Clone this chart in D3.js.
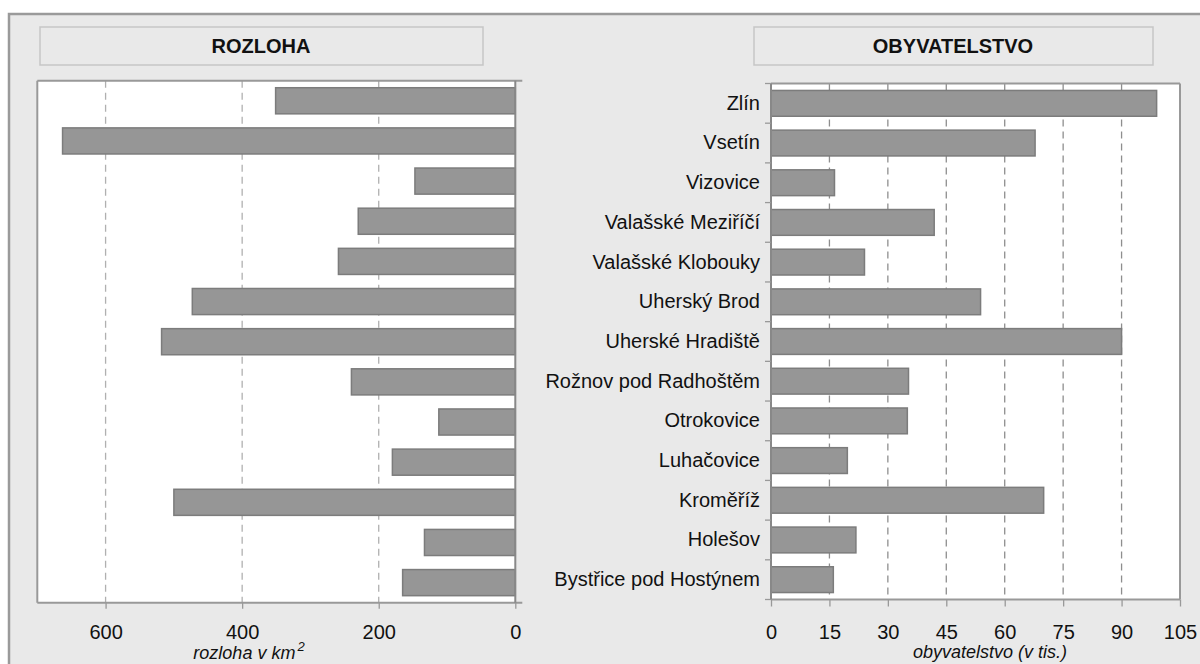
<!DOCTYPE html>
<html>
<head>
<meta charset="utf-8">
<script src="https://cdn.jsdelivr.net/npm/d3@7"></script>
<style>
  html, body { margin: 0; padding: 0; background: #ffffff; }
  svg { display: block; font-family: "Liberation Sans", Arial, sans-serif; }
</style>
</head>
<body>
<svg id="chart" width="1200" height="664"></svg>
<script>
const categories = ["Zlín", "Vsetín", "Vizovice", "Valašské Meziříčí", "Valašské Klobouky",
  "Uherský Brod", "Uherské Hradiště", "Rožnov pod Radhoštěm", "Otrokovice", "Luhačovice",
  "Kroměříž", "Holešov", "Bystřice pod Hostýnem"];
const rozloha = [351, 663, 147, 230, 259, 473, 518, 240, 112, 180, 500, 133, 165];
const obyvatelstvo = [99.0, 67.8, 16.3, 41.9, 24.0, 53.8, 90.0, 35.3, 35.0, 19.6, 70.0, 21.8, 16.0];
const rozlohaTicks = [0, 200, 400, 600];
const obyvTicks = [0, 15, 30, 45, 60, 75, 90, 105];
const titles = ["ROZLOHA", "OBYVATELSTVO"];

const FONT = "Liberation Sans, Arial, sans-serif";
const svg = d3.select("#chart");

// outer frame
svg.append("rect").attr("x", 9).attr("y", 14).attr("width", 1200).attr("height", 700)
  .attr("fill", "#e9e9e9").attr("stroke", "#9a9a9a").attr("stroke-width", 2.5);

// title boxes
const titleBoxes = [{x: 40, w: 443, cx: 261}, {x: 754, w: 399, cx: 953}];
titleBoxes.forEach((b, i) => {
  svg.append("rect").attr("x", b.x).attr("y", 27).attr("width", b.w).attr("height", 38)
    .attr("fill", "#e9e9e9").attr("stroke", "#c6c6c6").attr("stroke-width", 1.5);
  svg.append("text").attr("x", b.cx).attr("y", 53).attr("text-anchor", "middle")
    .attr("font-size", 20).attr("font-weight", "bold").attr("fill", "#111").text(titles[i]);
});

const barFill = "#969696", barStroke = "#7c7c7c";

// ---------- LEFT PANEL ----------
const L = {left: 37.3, right: 515.3, top: 80.7, bottom: 602.7};
const xL = d3.scaleLinear().domain([700, 0]).range([L.left, L.right]);
const yL = d3.scaleBand().domain(categories).range([L.top, L.bottom]).paddingInner(0.35).paddingOuter(0.175);

svg.append("rect").attr("x", L.left).attr("y", L.top).attr("width", L.right - L.left)
  .attr("height", L.bottom - L.top).attr("fill", "#fff");

svg.append("g").selectAll("line").data(rozlohaTicks.filter(d => d > 0)).join("line")
  .attr("x1", d => xL(d)).attr("x2", d => xL(d)).attr("y1", L.top).attr("y2", L.bottom)
  .attr("stroke", "#b0b0b0").attr("stroke-width", 1.3).attr("stroke-dasharray", "7,5");

svg.append("g").selectAll("rect").data(categories).join("rect")
  .attr("x", (d, i) => xL(rozloha[i])).attr("y", d => yL(d))
  .attr("width", (d, i) => xL(0) - xL(rozloha[i])).attr("height", yL.bandwidth())
  .attr("fill", barFill).attr("stroke", barStroke).attr("stroke-width", 1.5);

// border
const lb = svg.append("g").attr("stroke", "#999").attr("stroke-width", 2).attr("fill", "none");
lb.append("line").attr("x1", L.left).attr("x2", L.right + 7).attr("y1", L.top).attr("y2", L.top);
lb.append("line").attr("x1", L.left).attr("x2", L.right + 7).attr("y1", L.bottom).attr("y2", L.bottom);
lb.append("line").attr("x1", L.left).attr("x2", L.left).attr("y1", L.top).attr("y2", L.bottom);
lb.append("line").attr("x1", L.right).attr("x2", L.right).attr("y1", L.top).attr("y2", L.bottom).attr("stroke", "#888");

const axL = svg.append("g").attr("transform", `translate(0,${L.bottom})`)
  .call(d3.axisBottom(xL).tickValues(rozlohaTicks).tickSize(6).tickPadding(16));
axL.select(".domain").remove();
axL.selectAll(".tick line").attr("stroke", "#999").attr("stroke-width", 1.3);
axL.selectAll(".tick text").attr("font-size", 20).attr("fill", "#111").attr("font-family", FONT);

const tL = svg.append("text").attr("x", 249).attr("y", 659).attr("text-anchor", "middle")
  .attr("font-size", 18).attr("font-style", "italic").attr("fill", "#111");
tL.append("tspan").text("rozloha v km");
tL.append("tspan").attr("dx", 2).attr("dy", -8).attr("font-size", 13).text("2");

// ---------- RIGHT PANEL ----------
const R = {left: 771, right: 1180, top: 83.5, bottom: 599.5};
const xR = d3.scaleLinear().domain([0, 105]).range([R.left, R.right]);
const yR = d3.scaleBand().domain(categories).range([R.top, R.bottom]).paddingInner(0.35).paddingOuter(0.175);

svg.append("rect").attr("x", R.left).attr("y", R.top).attr("width", R.right - R.left)
  .attr("height", R.bottom - R.top).attr("fill", "#fff");

svg.append("g").selectAll("line").data(obyvTicks.filter(d => d > 0 && d < 105)).join("line")
  .attr("x1", d => xR(d)).attr("x2", d => xR(d)).attr("y1", R.top).attr("y2", R.bottom)
  .attr("stroke", "#8e8e8e").attr("stroke-width", 1.3).attr("stroke-dasharray", "7,5");

svg.append("g").selectAll("rect").data(categories).join("rect")
  .attr("x", xR(0)).attr("y", d => yR(d))
  .attr("width", (d, i) => xR(obyvatelstvo[i]) - xR(0)).attr("height", yR.bandwidth())
  .attr("fill", barFill).attr("stroke", barStroke).attr("stroke-width", 1.5);

const rb = svg.append("g").attr("stroke", "#999").attr("stroke-width", 2).attr("fill", "none");
rb.append("line").attr("x1", R.left).attr("x2", R.right).attr("y1", R.top).attr("y2", R.top);
rb.append("line").attr("x1", R.left).attr("x2", R.right).attr("y1", R.bottom).attr("y2", R.bottom);
rb.append("line").attr("x1", R.right).attr("x2", R.right).attr("y1", R.top).attr("y2", R.bottom);
rb.append("line").attr("x1", R.left).attr("x2", R.left).attr("y1", R.top).attr("y2", R.bottom).attr("stroke", "#888");

// band boundary ticks on the category axis
const step = yR.step();
const bounds = d3.range(categories.length + 1).map(i => R.top + i * step);
svg.append("g").selectAll("line").data(bounds).join("line")
  .attr("x1", R.left - 6).attr("x2", R.left).attr("y1", d => d).attr("y2", d => d)
  .attr("stroke", "#999").attr("stroke-width", 1.3);

// category labels
const axY = svg.append("g").attr("transform", `translate(${R.left},0)`)
  .call(d3.axisLeft(yR).tickSize(0).tickPadding(11));
axY.select(".domain").remove();
axY.selectAll(".tick text").attr("font-size", 20).attr("fill", "#111").attr("font-family", FONT);

const axR = svg.append("g").attr("transform", `translate(0,${R.bottom})`)
  .call(d3.axisBottom(xR).tickValues(obyvTicks).tickSize(7).tickPadding(18));
axR.select(".domain").remove();
axR.selectAll(".tick line").attr("stroke", "#999").attr("stroke-width", 1.3);
axR.selectAll(".tick text").attr("font-size", 20).attr("fill", "#111").attr("font-family", FONT);

svg.append("text").attr("x", 990).attr("y", 658).attr("text-anchor", "middle")
  .attr("font-size", 18).attr("font-style", "italic").attr("fill", "#111")
  .text("obyvatelstvo (v tis.)");
</script>
</body>
</html>
